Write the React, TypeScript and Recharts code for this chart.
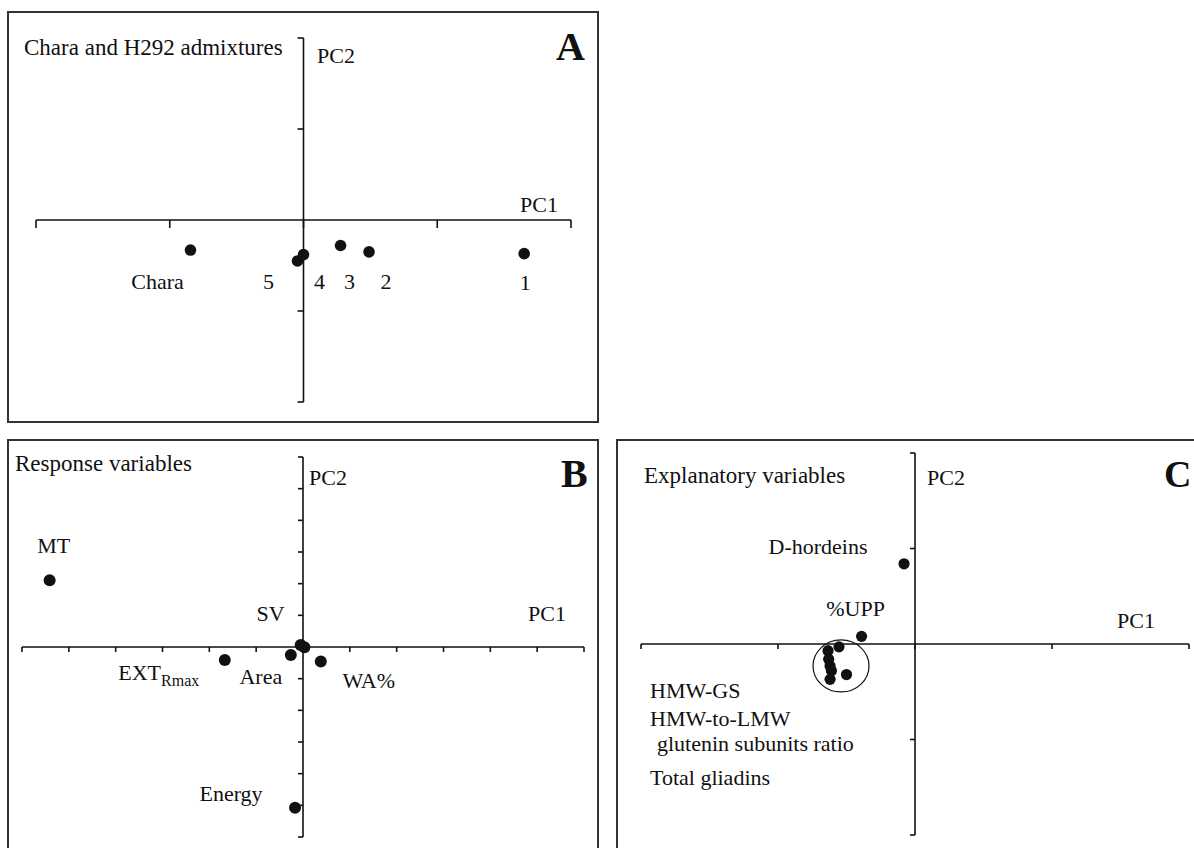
import { ReferenceDot, ReferenceLine, Scatter, ScatterChart, XAxis, YAxis } from 'recharts'

const FONT = '"Liberation Serif", "Times New Roman", serif'
const INK = '#111'

// A: Chara and H292 admixtures (PC1, PC2 scores)
const admixNames = ['Chara', '5', '4', '3', '2', '1']
const admixPc1 = [-0.845, -0.045, 0.0, 0.277, 0.49, 1.65]
const admixPc2 = [-0.33, -0.45, -0.38, -0.28, -0.35, -0.37]
const admixXTicks = [-2, -1, 0, 1, 2]
const admixYTicks = [-2, -1, 1, 2]

// B: response variables (loadings)
const responseNames = ['MT', 'SV', '', 'EXT_Rmax', 'Area', 'WA%', 'Energy']
const responsePc1 = [-5.41, -0.05, 0.03, -1.67, -0.26, 0.38, -0.17]
const responsePc2 = [2.11, 0.06, -0.01, -0.41, -0.25, -0.46, -5.08]
const responseXTicks = [-6, -5, -4, -3, -2, -1, 0, 1, 2, 3, 4, 5, 6]
const responseYTicks = [-6, -5, -4, -3, -2, -1, 1, 2, 3, 4, 5, 6]

// C: explanatory variables (loadings)
const explanNames = ['D-hordeins', '%UPP', 'HMW-GS', 'HMW-to-LMW ratio', 'Total gliadins', 'g4', 'g5', 'g6', 'g7']
const explanPc1 = [-0.08, -0.39, -0.555, -0.635, -0.63, -0.62, -0.61, -0.62, -0.5]
const explanPc2 = [0.84, 0.08, -0.03, -0.07, -0.16, -0.23, -0.28, -0.37, -0.32]
const explanXTicks = [-2, -1, 0, 1, 2]
const explanYTicks = [-2, -1, 1, 2]
const clusterCentre = { x: -0.54, y: -0.23 }

const toPoints = (names: string[], xs: number[], ys: number[]) =>
  names.map((name, i) => ({ name, x: xs[i], y: ys[i] }))

const admixData = toPoints(admixNames, admixPc1, admixPc2)
const responseData = toPoints(responseNames, responsePc1, responsePc2)
const explanData = toPoints(explanNames, explanPc1, explanPc2)

// label placement relative to the dot (px)
const admixLabelPos: Record<string, [number, number]> = {
  Chara: [-33, 31],
  '5': [-29, 21],
  '4': [16, 27],
  '3': [9, 36],
  '2': [17, 30],
  '1': [1, 29],
}
const responseLabelPos: Record<string, [number, number]> = {
  MT: [4, -35],
  SV: [-30, -32],
  EXT_Rmax: [-66, 13],
  Area: [-30, 22],
  'WA%': [48, 19],
  Energy: [-64, -14],
}
const explanLabelPos: Record<string, [number, number]> = {
  'D-hordeins': [-86, -17],
  '%UPP': [-6, -28],
}

function labelledDot(offsets: Record<string, [number, number]>, r: number) {
  return (props: any) => {
    const { cx, cy } = props
    const name: string = props.payload?.name ?? props.name
    const off = offsets[name]
    const [main, sub] = name.split('_')
    return (
      <g>
        <circle cx={cx} cy={cy} r={r} fill={INK} />
        {off && (
          <text
            x={cx + off[0]}
            y={cy + off[1]}
            textAnchor="middle"
            dominantBaseline="central"
            fontFamily={FONT}
            fontSize={22}
            fill={INK}
          >
            {main}
            {sub && (
              <tspan fontSize={16} dy={7}>
                {sub}
              </tspan>
            )}
          </text>
        )}
      </g>
    )
  }
}

const tickDown = (len: number) => (p: any) => (
  <line x1={p.cx} y1={p.cy} x2={p.cx} y2={p.cy + len} stroke={INK} strokeWidth={1.6} />
)
const tickLeft = (len: number) => (p: any) => (
  <line x1={p.cx} y1={p.cy} x2={p.cx - len} y2={p.cy} stroke={INK} strokeWidth={1.6} />
)

interface BiplotProps {
  data: { name: string; x: number; y: number }[]
  xDomain: [number, number]
  yDomain: [number, number]
  xTicks: number[]
  yTicks: number[]
  xTickLen: number
  yTickLen: number
  width: number
  height: number
  margin: { top: number; right: number; bottom: number; left: number }
  labels: Record<string, [number, number]>
  dotR: number
  children?: React.ReactNode
}

function Biplot(p: BiplotProps) {
  return (
    <ScatterChart width={p.width} height={p.height} margin={p.margin}>
      <XAxis type="number" dataKey="x" domain={p.xDomain} allowDataOverflow hide />
      <YAxis type="number" dataKey="y" domain={p.yDomain} allowDataOverflow hide />
      <ReferenceLine y={0} stroke={INK} strokeWidth={1.6} />
      <ReferenceLine x={0} stroke={INK} strokeWidth={1.6} />
      {p.xTicks.map((t) => (
        <ReferenceDot key={`x${t}`} x={t} y={0} r={1} ifOverflow="visible" shape={tickDown(p.xTickLen)} />
      ))}
      {p.yTicks.map((t) => (
        <ReferenceDot key={`y${t}`} x={0} y={t} r={1} ifOverflow="visible" shape={tickLeft(p.yTickLen)} />
      ))}
      {p.children}
      <Scatter data={p.data} isAnimationActive={false} shape={labelledDot(p.labels, p.dotR)} />
    </ScatterChart>
  )
}

const txt = {
  fontFamily: FONT,
  fontSize: 22,
  fill: INK,
  dominantBaseline: 'central' as const,
}

export default function App() {
  const box = (left: number, top: number, width: number, height: number) => ({
    position: 'absolute' as const,
    left,
    top,
    width,
    height,
    border: '2px solid #333',
    boxSizing: 'border-box' as const,
  })
  const at = (left: number, top: number) => ({ position: 'absolute' as const, left, top })

  return (
    <div style={{ position: 'absolute', left: 0, top: 0, width: 1194, height: 848, background: '#fff', overflow: 'hidden' }}>
      <div style={box(7, 11, 592, 412)} />
      <div style={box(7, 439, 592, 430)} />
      <div style={box(616, 439, 600, 430)} />

      <div style={at(8, 12)}>
        <Biplot
          data={admixData}
          xDomain={[-2, 2]}
          yDomain={[-2, 2]}
          xTicks={admixXTicks}
          yTicks={admixYTicks}
          xTickLen={8}
          yTickLen={6}
          width={590}
          height={410}
          margin={{ top: 26, right: 27, bottom: 20, left: 28 }}
          labels={admixLabelPos}
          dotR={5.8}
        />
      </div>

      <div style={at(8, 440)}>
        <Biplot
          data={responseData}
          xDomain={[-6, 6]}
          yDomain={[-6, 6]}
          xTicks={responseXTicks}
          yTicks={responseYTicks}
          xTickLen={5}
          yTickLen={5}
          width={590}
          height={408}
          margin={{ top: 17, right: 14, bottom: 11, left: 14 }}
          labels={responseLabelPos}
          dotR={6}
        />
      </div>

      <div style={at(617, 440)}>
        <Biplot
          data={explanData}
          xDomain={[-2, 2]}
          yDomain={[-2, 2]}
          xTicks={explanXTicks}
          yTicks={explanYTicks}
          xTickLen={5}
          yTickLen={5}
          width={577}
          height={408}
          margin={{ top: 13, right: 5, bottom: 13, left: 24 }}
          labels={explanLabelPos}
          dotR={5.6}
        >
          <ReferenceDot
            x={clusterCentre.x}
            y={clusterCentre.y}
            r={27}
            ifOverflow="visible"
            shape={(s: any) => (
              <ellipse cx={s.cx} cy={s.cy} rx={28} ry={26} fill="none" stroke={INK} strokeWidth={1.2} />
            )}
          />
        </Biplot>
      </div>

      <svg width={1194} height={848} style={{ position: 'absolute', left: 0, top: 0, pointerEvents: 'none' }}>
        {/* A */}
        <text x={24} y={47} {...txt} fontSize={23}>Chara and H292 admixtures</text>
        <text x={317} y={55} {...txt}>PC2</text>
        <text x={520} y={204} {...txt}>PC1</text>
        <text x={556} y={46} {...txt} fontSize={40} fontWeight="bold">A</text>
        {/* B */}
        <text x={15} y={463} {...txt} fontSize={23}>Response variables</text>
        <text x={309} y={477} {...txt}>PC2</text>
        <text x={528} y={613} {...txt}>PC1</text>
        <text x={561} y={473} {...txt} fontSize={40} fontWeight="bold">B</text>
        {/* C */}
        <text x={644} y={475} {...txt} fontSize={23}>Explanatory variables</text>
        <text x={927} y={477} {...txt}>PC2</text>
        <text x={1117} y={620} {...txt}>PC1</text>
        <text x={1164} y={474} {...txt} fontSize={38} fontWeight="bold">C</text>
        <text x={650} y={690} {...txt}>HMW-GS</text>
        <text x={650} y={718} {...txt}>HMW-to-LMW</text>
        <text x={657} y={743} {...txt}>glutenin subunits ratio</text>
        <text x={650} y={777} {...txt}>Total gliadins</text>
      </svg>
    </div>
  )
}
